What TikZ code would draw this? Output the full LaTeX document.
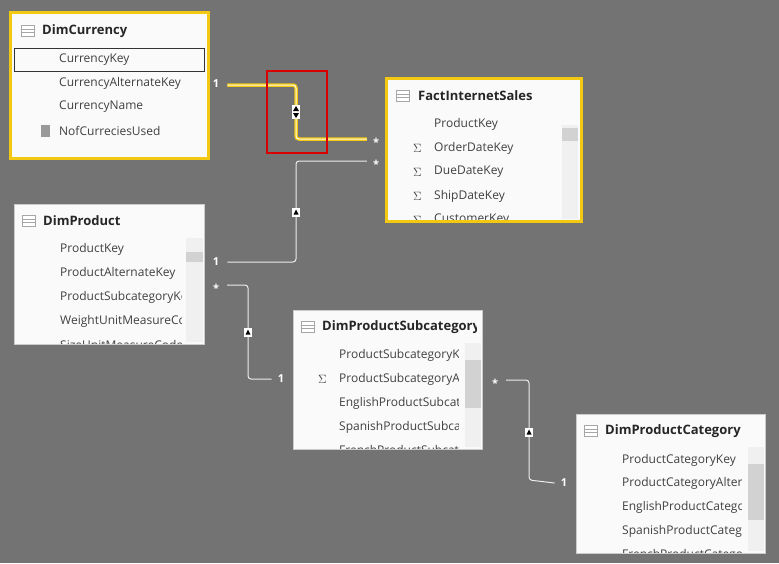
\documentclass[tikz,border=0pt]{standalone}
\usepackage{amssymb}
\usepackage{fontspec}
\setmainfont{Open Sans}
\usetikzlibrary{calc}
\begin{document}
\begin{tikzpicture}[x=1pt,y=-1pt,
  tbl/.style={draw=#1,fill=tabbg,inner sep=0pt},
  ttl/.style={anchor=west,font=\bfseries\fontsize{13}{15}\selectfont,text=black!85,inner sep=0pt},
  row/.style={anchor=west,font=\fontsize{12}{14}\selectfont,text=black!75,inner sep=0pt},
  card/.style={font=\bfseries\fontsize{11}{12}\selectfont,text=white,inner sep=0pt},
  rel/.style={draw=white!85!gray,line width=1pt,rounded corners=3pt},
  mk/.style={fill=white,draw=white,inner sep=0.6pt,font=\fontsize{6}{6}\selectfont},
  tri/.style={fill=black,draw=none},
  icn/.style={draw=gray!70,fill=white,minimum width=13pt,minimum height=11pt,inner sep=0pt,line width=1.2pt,
     path picture={\draw[gray!70,line width=0.6pt] (path picture bounding box.west)++(0,1.5) -- ++(13,0)
       (path picture bounding box.west)++(0,-1.5) -- ++(13,0)
       (path picture bounding box.north)++(-2,0) -- ++(0,-11)
       (path picture bounding box.north)++(2,0) -- ++(0,-11);}},
  sb/.style={fill=gray!12,draw=none},
  th/.style={fill=gray!35,draw=none}]
\definecolor{bgc}{HTML}{737373}
\definecolor{tabbg}{HTML}{FAFAFA}
\definecolor{ylw}{HTML}{F2C811}
\fill[bgc] (0,0) rectangle (779,563);
\useasboundingbox (0,0) rectangle (779,563);
% DimCurrency
\path[tbl=ylw,line width=3pt] (10,12) rectangle (208,158);
\node[icn] (ic1) at (28,31) {};
\node[ttl] (t1) at (42,31) {DimCurrency};
\draw[black!80,line width=0.8pt] (14,48) rectangle (204,71);
\node[row] (r11) at (59,60) {CurrencyKey};
\node[row] (r12) at (59,83) {CurrencyAlternateKey};
\node[row] (r13) at (59,107) {CurrencyName};
\node[row] (r14) at (59,131) {NofCurreciesUsed};
\node[fill=gray!80,minimum width=9pt,minimum height=12pt,inner sep=0pt] (calc) at (45,131) {};
% FactInternetSales
\path[tbl=ylw,line width=3pt] (386,78) rectangle (581,221);
\node[icn] (ic2) at (403,96) {};
\node[ttl] (t2) at (418,96) {FactInternetSales};
\fill[sb] (562,125) rectangle (578,219); \fill[th] (562,128) rectangle (578,141);
\begin{scope}
\clip (388,110) rectangle (558,219);
\node[row] (r21) at (434,124) {ProductKey};
\node[row] (r22) at (434,148) {OrderDateKey};
\node[row] (r23) at (434,172) {DueDateKey};
\node[row] (r24) at (434,196) {ShipDateKey};
\node[row] (r25) at (434,220) {CustomerKey};
\node[row] (s22) at (413,148) {$\Sigma$};
\node[row] (s23) at (413,172) {$\Sigma$};
\node[row] (s24) at (413,196) {$\Sigma$};
\node[row] (s25) at (413,220) {$\Sigma$};
\end{scope}
% DimProduct
\path[tbl=gray!40,line width=0.6pt] (14,204) rectangle (204,344);
\node[icn] (ic3) at (29,221) {};
\node[ttl] (t3) at (43,221) {DimProduct};
\fill[sb] (186,238) rectangle (203,342); \fill[th] (186,252) rectangle (203,262);
\begin{scope}
\clip (15,236) rectangle (181,343);
\node[row] (r31) at (60,249) {ProductKey};
\node[row] (r32) at (60,273) {ProductAlternateKey};
\node[row] (r33) at (60,297) {ProductSubcategoryKey};
\node[row] (r34) at (60,321) {WeightUnitMeasureCode};
\node[row] (r35) at (60,345) {SizeUnitMeasureCode};
\end{scope}
% DimProductSubcategory
\path[tbl=gray!40,line width=0.6pt] (293,310) rectangle (482,449);
\node[icn] (ic4) at (308,327) {};
\begin{scope}
\clip (294,315) rectangle (476,340);
\node[ttl] (t4) at (322,327) {DimProductSubcategory};
\end{scope}
\fill[sb] (465,343) rectangle (481,447); \fill[th] (465,360) rectangle (481,408);
\begin{scope}
\clip (294,340) rectangle (458,448);
\node[row] (r41) at (339,355) {ProductSubcategoryKey};
\node[row] (r42) at (339,379) {ProductSubcategoryAlternateKey};
\node[row] (r43) at (339,403) {EnglishProductSubcategoryName};
\node[row] (r44) at (339,427) {SpanishProductSubcategoryName};
\node[row] (r45) at (339,451) {FrenchProductSubcategoryName};
\node[row] (s42) at (318,379) {$\Sigma$};
\end{scope}
% DimProductCategory
\path[tbl=gray!40,line width=0.6pt] (576,414) rectangle (765,553);
\node[icn] (ic5) at (591,431) {};
\node[ttl] (t5) at (605,431) {DimProductCategory};
\fill[sb] (748,447) rectangle (764,551); \fill[th] (748,464) rectangle (764,520);
\begin{scope}
\clip (577,444) rectangle (741,552);
\node[row] (r51) at (622,460) {ProductCategoryKey};
\node[row] (r52) at (622,483) {ProductCategoryAlternateKey};
\node[row] (r53) at (622,507) {EnglishProductCategoryName};
\node[row] (r54) at (622,531) {SpanishProductCategoryName};
\node[row] (r55) at (622,555) {FrenchProductCategoryName};
\end{scope}
% cardinality labels
\node[card] (c1a) at (216,84) {1};
\node[card] (c1b) at (376,142) {*};
\node[card] (c2a) at (216,262) {1};
\node[card] (c2b) at (376,164) {*};
\node[card] (c3a) at (216,288) {*};
\node[card] (c3b) at (281,379) {1};
\node[card] (c4a) at (495,383) {*};
\node[card] (c4b) at (564,483) {1};
% relationships
\draw[ylw,line width=3.5pt,rounded corners=3pt] ($(c1a.east)+(8,1)$) -| (296,139) -- ($(c1b.west)+(-6,-3)$);
\draw[white!90!ylw,line width=1pt,rounded corners=3pt] ($(c1a.east)+(8,1)$) -| (296,139) -- ($(c1b.west)+(-6,-3)$);
\draw[rel] ($(c2a.east)+(8,0)$) -| (296,161) -- ($(c2b.west)+(-6,-3)$);
\draw[rel] ($(c3a.east)+(8,-3)$) -| (248,379) -- ($(c3b.west)+(-6,0)$);
\draw[rel] ($(c4a.east)+(8,-3)$) -| (529,480) -- ($(c4b.west)+(-6,0)$);
% markers
\node[mk,minimum width=7pt,minimum height=13pt] (m1) at (296,112) {};
\fill[tri] (293,111) -- (299,111) -- (296,106) -- cycle;
\fill[tri] (293,113) -- (299,113) -- (296,118) -- cycle;
\node[mk,minimum width=7pt,minimum height=8pt] (m2) at (296,212) {};
\fill[tri] (293.5,214.5) -- (298.5,214.5) -- (296,209.5) -- cycle;
\node[mk,minimum width=7pt,minimum height=8pt] (m3) at (248,332) {};
\fill[tri] (245.5,334.5) -- (250.5,334.5) -- (248,329.5) -- cycle;
\node[mk,minimum width=7pt,minimum height=8pt] (m4) at (529,432) {};
\fill[tri] (526.5,434.5) -- (531.5,434.5) -- (529,429.5) -- cycle;
% red highlight
\draw[red!85!black,line width=2pt] (267,71) rectangle (327,153);
\end{tikzpicture}
\end{document}
